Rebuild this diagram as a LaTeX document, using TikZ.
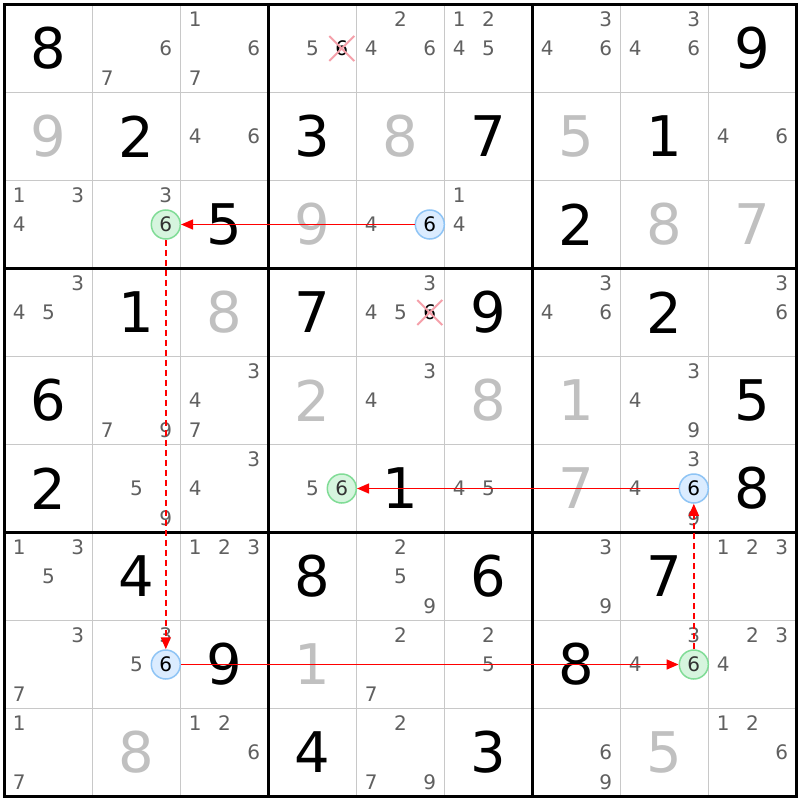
\documentclass[tikz,border=0pt]{standalone}
\usepackage{fontspec}
\setmainfont{DejaVu Sans}
\usepackage{xcolor}
\usetikzlibrary{arrows.meta,shapes.misc}
\definecolor{solvedgray}{RGB}{192,192,192}
\definecolor{candgray}{RGB}{96,96,96}
\definecolor{gridgray}{RGB}{200,200,200}
\definecolor{onfill}{RGB}{214,245,222}
\definecolor{ondraw}{RGB}{128,220,150}
\definecolor{offfill}{RGB}{219,236,255}
\definecolor{offdraw}{RGB}{142,196,245}
\definecolor{elimpink}{RGB}{245,160,170}
\definecolor{linkred}{RGB}{255,0,0}
\definecolor{oncandtext}{RGB}{51,51,51}

\begin{document}
\begin{tikzpicture}[x=88pt, y=-88pt,
            given/.style={font=\fontsize{56}{56}\selectfont, text=black, inner sep=0pt},
            solved/.style={font=\fontsize{56}{56}\selectfont, text=solvedgray, inner sep=0pt},
            cand/.style={font=\fontsize{20}{20}\selectfont, text=candgray, inner sep=0pt},
            oncand/.style={cand, circle, minimum size=29pt, fill=onfill, draw=ondraw, line width=1.5pt, text=oncandtext},
            offcand/.style={cand, circle, minimum size=29pt, fill=offfill, draw=offdraw, line width=1.5pt, text=black},
            elimcand/.style={cand, cross out, minimum size=23pt, draw=elimpink, line width=2pt, text=black},
            thinline/.style={gridgray, line width=1.5pt},
            boxline/.style={black, line width=3pt},
            stronglink/.style={-{Triangle[length=12pt,width=10pt]}, linkred, line width=1.5pt},
            weaklink/.style={-{Triangle[length=12pt,width=10pt]}, linkred, line width=1.5pt, dash pattern=on 6pt off 4pt}
        ]
        \fill[white] (-4.5pt,4.5pt) rectangle (795.5pt,-795.5pt);
        \useasboundingbox (-4.5pt,4.5pt) rectangle (795.5pt,-795.5pt);

        % Grid
        \draw[thinline] (1,0) -- (1,9);
        \draw[thinline] (2,0) -- (2,9);
        \draw[thinline] (4,0) -- (4,9);
        \draw[thinline] (5,0) -- (5,9);
        \draw[thinline] (7,0) -- (7,9);
        \draw[thinline] (8,0) -- (8,9);
        \draw[thinline] (0,1) -- (9,1);
        \draw[thinline] (0,2) -- (9,2);
        \draw[thinline] (0,4) -- (9,4);
        \draw[thinline] (0,5) -- (9,5);
        \draw[thinline] (0,7) -- (9,7);
        \draw[thinline] (0,8) -- (9,8);
        \draw[boxline] (3,0) -- (3,9);
        \draw[boxline] (6,0) -- (6,9);
        \draw[boxline] (0,3) -- (9,3);
        \draw[boxline] (0,6) -- (9,6);
        \draw[boxline] (0,0) rectangle (9,9);

        % Row 1
        \node[given] (r1c1) at (0.5,0.5) {8};
        \node[cand] (r1c2n6) at (1.833,0.5) {6};
        \node[cand] (r1c2n7) at (1.167,0.833) {7};
        \node[cand] (r1c3n1) at (2.167,0.167) {1};
        \node[cand] (r1c3n6) at (2.833,0.5) {6};
        \node[cand] (r1c3n7) at (2.167,0.833) {7};
        \node[cand] (r1c4n5) at (3.5,0.5) {5};
        \node[elimcand] (r1c4n6) at (3.833,0.5) {6};
        \node[cand] (r1c5n2) at (4.5,0.167) {2};
        \node[cand] (r1c5n4) at (4.167,0.5) {4};
        \node[cand] (r1c5n6) at (4.833,0.5) {6};
        \node[cand] (r1c6n1) at (5.167,0.167) {1};
        \node[cand] (r1c6n2) at (5.5,0.167) {2};
        \node[cand] (r1c6n4) at (5.167,0.5) {4};
        \node[cand] (r1c6n5) at (5.5,0.5) {5};
        \node[cand] (r1c7n3) at (6.833,0.167) {3};
        \node[cand] (r1c7n4) at (6.167,0.5) {4};
        \node[cand] (r1c7n6) at (6.833,0.5) {6};
        \node[cand] (r1c8n3) at (7.833,0.167) {3};
        \node[cand] (r1c8n4) at (7.167,0.5) {4};
        \node[cand] (r1c8n6) at (7.833,0.5) {6};
        \node[given] (r1c9) at (8.5,0.5) {9};

        % Row 2
        \node[solved] (r2c1) at (0.5,1.5) {9};
        \node[given] (r2c2) at (1.5,1.5) {2};
        \node[cand] (r2c3n4) at (2.167,1.5) {4};
        \node[cand] (r2c3n6) at (2.833,1.5) {6};
        \node[given] (r2c4) at (3.5,1.5) {3};
        \node[solved] (r2c5) at (4.5,1.5) {8};
        \node[given] (r2c6) at (5.5,1.5) {7};
        \node[solved] (r2c7) at (6.5,1.5) {5};
        \node[given] (r2c8) at (7.5,1.5) {1};
        \node[cand] (r2c9n4) at (8.167,1.5) {4};
        \node[cand] (r2c9n6) at (8.833,1.5) {6};

        % Row 3
        \node[cand] (r3c1n1) at (0.167,2.167) {1};
        \node[cand] (r3c1n3) at (0.833,2.167) {3};
        \node[cand] (r3c1n4) at (0.167,2.5) {4};
        \node[cand] (r3c2n3) at (1.833,2.167) {3};
        \node[oncand] (r3c2n6) at (1.833,2.5) {6};
        \node[given] (r3c3) at (2.5,2.5) {5};
        \node[solved] (r3c4) at (3.5,2.5) {9};
        \node[cand] (r3c5n4) at (4.167,2.5) {4};
        \node[offcand] (r3c5n6) at (4.833,2.5) {6};
        \node[cand] (r3c6n1) at (5.167,2.167) {1};
        \node[cand] (r3c6n4) at (5.167,2.5) {4};
        \node[given] (r3c7) at (6.5,2.5) {2};
        \node[solved] (r3c8) at (7.5,2.5) {8};
        \node[solved] (r3c9) at (8.5,2.5) {7};

        % Row 4
        \node[cand] (r4c1n3) at (0.833,3.167) {3};
        \node[cand] (r4c1n4) at (0.167,3.5) {4};
        \node[cand] (r4c1n5) at (0.5,3.5) {5};
        \node[given] (r4c2) at (1.5,3.5) {1};
        \node[solved] (r4c3) at (2.5,3.5) {8};
        \node[given] (r4c4) at (3.5,3.5) {7};
        \node[cand] (r4c5n3) at (4.833,3.167) {3};
        \node[cand] (r4c5n4) at (4.167,3.5) {4};
        \node[cand] (r4c5n5) at (4.5,3.5) {5};
        \node[elimcand] (r4c5n6) at (4.833,3.5) {6};
        \node[given] (r4c6) at (5.5,3.5) {9};
        \node[cand] (r4c7n3) at (6.833,3.167) {3};
        \node[cand] (r4c7n4) at (6.167,3.5) {4};
        \node[cand] (r4c7n6) at (6.833,3.5) {6};
        \node[given] (r4c8) at (7.5,3.5) {2};
        \node[cand] (r4c9n3) at (8.833,3.167) {3};
        \node[cand] (r4c9n6) at (8.833,3.5) {6};

        % Row 5
        \node[given] (r5c1) at (0.5,4.5) {6};
        \node[cand] (r5c2n7) at (1.167,4.833) {7};
        \node[cand] (r5c2n9) at (1.833,4.833) {9};
        \node[cand] (r5c3n3) at (2.833,4.167) {3};
        \node[cand] (r5c3n4) at (2.167,4.5) {4};
        \node[cand] (r5c3n7) at (2.167,4.833) {7};
        \node[solved] (r5c4) at (3.5,4.5) {2};
        \node[cand] (r5c5n3) at (4.833,4.167) {3};
        \node[cand] (r5c5n4) at (4.167,4.5) {4};
        \node[solved] (r5c6) at (5.5,4.5) {8};
        \node[solved] (r5c7) at (6.5,4.5) {1};
        \node[cand] (r5c8n3) at (7.833,4.167) {3};
        \node[cand] (r5c8n4) at (7.167,4.5) {4};
        \node[cand] (r5c8n9) at (7.833,4.833) {9};
        \node[given] (r5c9) at (8.5,4.5) {5};

        % Row 6
        \node[given] (r6c1) at (0.5,5.5) {2};
        \node[cand] (r6c2n5) at (1.5,5.5) {5};
        \node[cand] (r6c2n9) at (1.833,5.833) {9};
        \node[cand] (r6c3n3) at (2.833,5.167) {3};
        \node[cand] (r6c3n4) at (2.167,5.5) {4};
        \node[cand] (r6c4n5) at (3.5,5.5) {5};
        \node[oncand] (r6c4n6) at (3.833,5.5) {6};
        \node[given] (r6c5) at (4.5,5.5) {1};
        \node[cand] (r6c6n4) at (5.167,5.5) {4};
        \node[cand] (r6c6n5) at (5.5,5.5) {5};
        \node[solved] (r6c7) at (6.5,5.5) {7};
        \node[cand] (r6c8n3) at (7.833,5.167) {3};
        \node[cand] (r6c8n4) at (7.167,5.5) {4};
        \node[offcand] (r6c8n6) at (7.833,5.5) {6};
        \node[cand] (r6c8n9) at (7.833,5.833) {9};
        \node[given] (r6c9) at (8.5,5.5) {8};

        % Row 7
        \node[cand] (r7c1n1) at (0.167,6.167) {1};
        \node[cand] (r7c1n3) at (0.833,6.167) {3};
        \node[cand] (r7c1n5) at (0.5,6.5) {5};
        \node[given] (r7c2) at (1.5,6.5) {4};
        \node[cand] (r7c3n1) at (2.167,6.167) {1};
        \node[cand] (r7c3n2) at (2.5,6.167) {2};
        \node[cand] (r7c3n3) at (2.833,6.167) {3};
        \node[given] (r7c4) at (3.5,6.5) {8};
        \node[cand] (r7c5n2) at (4.5,6.167) {2};
        \node[cand] (r7c5n5) at (4.5,6.5) {5};
        \node[cand] (r7c5n9) at (4.833,6.833) {9};
        \node[given] (r7c6) at (5.5,6.5) {6};
        \node[cand] (r7c7n3) at (6.833,6.167) {3};
        \node[cand] (r7c7n9) at (6.833,6.833) {9};
        \node[given] (r7c8) at (7.5,6.5) {7};
        \node[cand] (r7c9n1) at (8.167,6.167) {1};
        \node[cand] (r7c9n2) at (8.5,6.167) {2};
        \node[cand] (r7c9n3) at (8.833,6.167) {3};

        % Row 8
        \node[cand] (r8c1n3) at (0.833,7.167) {3};
        \node[cand] (r8c1n7) at (0.167,7.833) {7};
        \node[cand] (r8c2n3) at (1.833,7.167) {3};
        \node[cand] (r8c2n5) at (1.5,7.5) {5};
        \node[offcand] (r8c2n6) at (1.833,7.5) {6};
        \node[given] (r8c3) at (2.5,7.5) {9};
        \node[solved] (r8c4) at (3.5,7.5) {1};
        \node[cand] (r8c5n2) at (4.5,7.167) {2};
        \node[cand] (r8c5n7) at (4.167,7.833) {7};
        \node[cand] (r8c6n2) at (5.5,7.167) {2};
        \node[cand] (r8c6n5) at (5.5,7.5) {5};
        \node[given] (r8c7) at (6.5,7.5) {8};
        \node[cand] (r8c8n3) at (7.833,7.167) {3};
        \node[cand] (r8c8n4) at (7.167,7.5) {4};
        \node[oncand] (r8c8n6) at (7.833,7.5) {6};
        \node[cand] (r8c9n2) at (8.5,7.167) {2};
        \node[cand] (r8c9n3) at (8.833,7.167) {3};
        \node[cand] (r8c9n4) at (8.167,7.5) {4};

        % Row 9
        \node[cand] (r9c1n1) at (0.167,8.167) {1};
        \node[cand] (r9c1n7) at (0.167,8.833) {7};
        \node[solved] (r9c2) at (1.5,8.5) {8};
        \node[cand] (r9c3n1) at (2.167,8.167) {1};
        \node[cand] (r9c3n2) at (2.5,8.167) {2};
        \node[cand] (r9c3n6) at (2.833,8.5) {6};
        \node[given] (r9c4) at (3.5,8.5) {4};
        \node[cand] (r9c5n2) at (4.5,8.167) {2};
        \node[cand] (r9c5n7) at (4.167,8.833) {7};
        \node[cand] (r9c5n9) at (4.833,8.833) {9};
        \node[given] (r9c6) at (5.5,8.5) {3};
        \node[cand] (r9c7n6) at (6.833,8.5) {6};
        \node[cand] (r9c7n9) at (6.833,8.833) {9};
        \node[solved] (r9c8) at (7.5,8.5) {5};
        \node[cand] (r9c9n1) at (8.167,8.167) {1};
        \node[cand] (r9c9n2) at (8.5,8.167) {2};
        \node[cand] (r9c9n6) at (8.833,8.5) {6};

        % Chain
        \draw[stronglink] (r3c5n6) -- (r3c2n6);
        \draw[weaklink] (r3c2n6) -- (r8c2n6);
        \draw[stronglink] (r8c2n6) -- (r8c8n6);
        \draw[weaklink] (r8c8n6) -- (r6c8n6);
        \draw[stronglink] (r6c8n6) -- (r6c4n6);

        \end{tikzpicture}
\end{document}
